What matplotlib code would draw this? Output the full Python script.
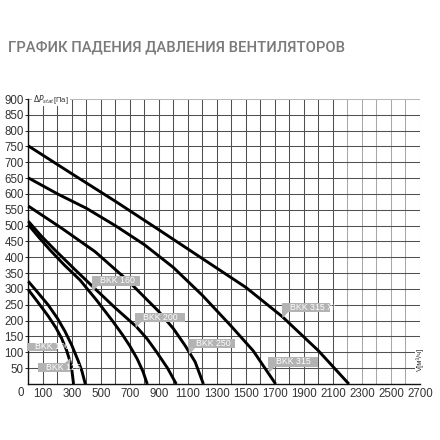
import matplotlib
matplotlib.use("Agg")
import matplotlib.pyplot as plt
from matplotlib.patches import Rectangle, Polygon

# ---- data ----
series_names = ["BKK 100", "BKK 125", "BKK 160", "BKK 200", "BKK 250", "BKK 315", "BKK 315 XL"]

bkk100_x = [0, 60, 138, 190, 230, 265, 287, 300, 312]
bkk100_y = [298, 262, 214, 178, 144, 105, 72, 45, 0]

bkk125_x = [0, 60, 138, 200, 253, 300, 345, 370, 393]
bkk125_y = [324, 292, 249, 208, 166, 122, 72, 40, 0]

bkk160_x = [0, 75, 150, 250, 357, 470, 584, 650, 700, 750, 790, 820]
bkk160_y = [503, 462, 423, 375, 328, 265, 197, 155, 120, 80, 40, 0]

bkk200_x = [0, 90, 184, 320, 457, 600, 745, 820, 883, 960, 1020]
bkk200_y = [514, 467, 423, 362, 302, 240, 181, 142, 102, 50, 0]

bkk250_x = [0, 230, 460, 690, 897, 1000, 1080, 1150, 1207]
bkk250_y = [562, 492, 418, 325, 230, 175, 122, 70, 0]

bkk315_x = [0, 207, 400, 600, 800, 1000, 1200, 1400, 1550, 1705]
bkk315_y = [651, 599, 555, 500, 440, 368, 280, 182, 105, 0]

bkk315xl_x = [0, 300, 600, 900, 1200, 1500, 1750, 2000, 2210]
bkk315xl_y = [752, 664, 577, 487, 396, 305, 213, 105, 0]

x_ticks = [100, 300, 500, 700, 900, 1100, 1300, 1500, 1700, 1900, 2100, 2300, 2500, 2700]
y_ticks = [50, 100, 150, 200, 250, 300, 350, 400, 450, 500, 550, 600, 650, 700, 750, 800, 850, 900]

title = "ГРАФИК ПАДЕНИЯ ДАВЛЕНИЯ ВЕНТИЛЯТОРОВ"
y_label = r"$\Delta P_{stat}$[Па]"
x_label = "V[м³/ч]"

# ---- layout (label boxes: x0, x1, y0, y1, pointer) ----
label_boxes = {
    "BKK 100": (-8, 196, 105, 130, None),
    "BKK 125": (65, 288, 39, 65, "tr"),
    "BKK 160": (437, 770, 311, 341, "bl"),
    "BKK 200": (736, 1081, 197, 225, "bl"),
    "BKK 250": (1104, 1425, 113, 143, "bl"),
    "BKK 315": (1655, 2000, 55, 84, "bl"),
    "BKK 315 XL": (1748, 2081, 228, 257, "bl"),
}

fig = plt.figure(figsize=(4.4, 4.4), dpi=100)
ax = fig.add_axes([0.0643, 0.1273, 0.8902, 0.6477])
ax.set_xlim(0, 2700)
ax.set_ylim(0, 900)

# grid
for gx in range(100, 2800, 100):
    col = "#505050" if gx <= 2100 else "#a8a8a8"
    ax.axvline(gx, color=col, lw=0.75, zorder=1)
for gy in range(50, 950, 50):
    col = "#505050" if gy < 900 else "#b8b8b8"
    ax.axhline(gy, color=col, lw=0.75, zorder=1)

for s in ["top", "right"]:
    ax.spines[s].set_visible(False)
ax.spines["left"].set_color("#111111")
ax.spines["bottom"].set_color("#111111")
ax.spines["left"].set_linewidth(1.0)
ax.spines["bottom"].set_linewidth(1.0)

ax.set_xticks(x_ticks)
ax.set_xticklabels([str(v) for v in x_ticks])
ax.set_yticks(y_ticks)
ax.set_yticklabels([str(v) for v in y_ticks])
ax.tick_params(axis="x", length=0, pad=3, labelsize=8.3, labelcolor="#333333")
ax.tick_params(axis="y", length=2, width=0.6, pad=1.2, labelsize=8.3, labelcolor="#333333")
for t in ax.get_xticklabels() + ax.get_yticklabels():
    t.set_fontfamily("Liberation Sans")

ax.text(-0.0186, -0.03, "0", transform=ax.transAxes, ha="center", va="center",
        fontsize=8.3, color="#333333", family="Liberation Sans")

# curves (drawn beneath the label boxes, as in the original)
curves = [
    (bkk100_x, bkk100_y), (bkk125_x, bkk125_y), (bkk160_x, bkk160_y),
    (bkk200_x, bkk200_y), (bkk250_x, bkk250_y), (bkk315_x, bkk315_y),
    (bkk315xl_x, bkk315xl_y),
]
for xs, ys in curves:
    ax.plot(xs, ys, color="black", lw=2.1, solid_capstyle="butt",
            solid_joinstyle="round", zorder=3, clip_on=False)

# label boxes
box_col = "#b3b3b3"
for name, (x0, x1, y0, y1, ptr) in label_boxes.items():
    ax.add_patch(Rectangle((x0, y0), x1 - x0, y1 - y0, facecolor=box_col,
                           edgecolor="none", zorder=4, clip_on=False))
    if ptr == "bl":
        ax.add_patch(Polygon([(x0, y0), (x0 + 45, y0), (x0 + 5, y0 - 20)],
                             closed=True, facecolor=box_col, edgecolor="none", zorder=4))
    elif ptr == "tr":
        ax.add_patch(Polygon([(x1 - 40, y1), (x1, y1), (x1 + 5, y1 + 18)],
                             closed=True, facecolor=box_col, edgecolor="none", zorder=4))
    ax.text(x0 + 55, (y0 + y1) / 2, name, color="white", fontsize=6.3,
            ha="left", va="center", zorder=5, family="Liberation Sans")

# axis labels
ax.text(0.012, 1.0, y_label, transform=ax.transAxes, ha="left", va="center",
        fontsize=5.5, color="#333333", family="Liberation Sans", zorder=6,
        bbox=dict(facecolor="white", edgecolor="none", pad=0.6))
ax.text(1.0, 0.045, x_label, transform=ax.transAxes, ha="center", va="bottom",
        rotation=90, fontsize=5.5, color="#333333", family="Liberation Sans", zorder=6,
        bbox=dict(facecolor="white", edgecolor="none", pad=0.6))

fig.text(0.018, 1 - 47 / 440, title, ha="left", va="center", fontsize=10.6,
         color="#7a7a7a", family="Roboto", fontweight="medium")

fig.savefig("out.png", dpi=100, facecolor="white")
